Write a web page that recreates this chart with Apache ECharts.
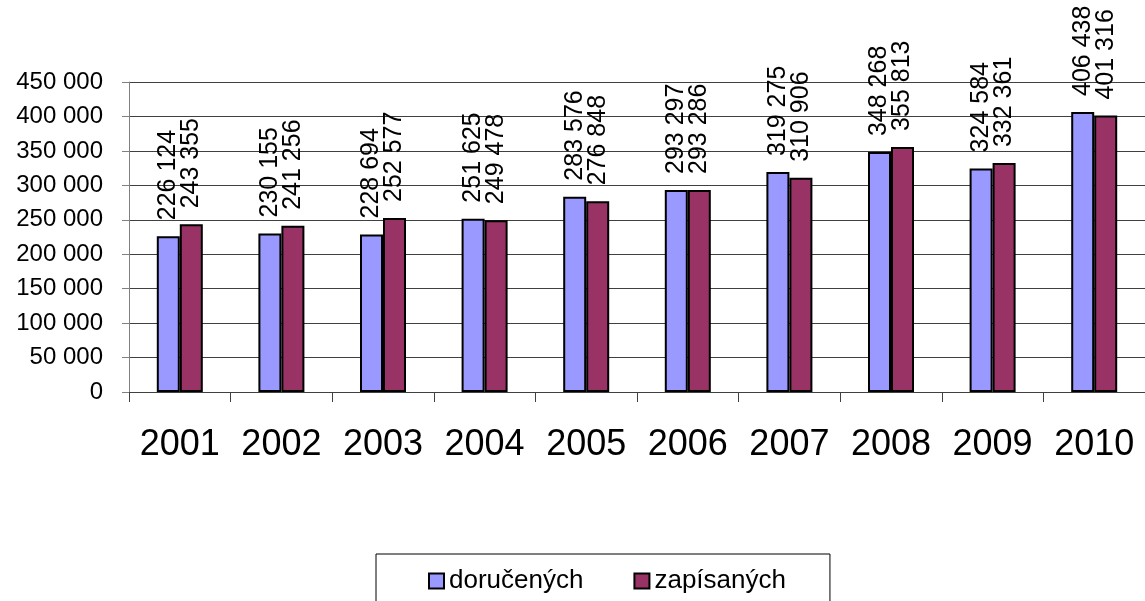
<!DOCTYPE html>
<html>
<head>
<meta charset="utf-8">
<script src="https://cdn.jsdelivr.net/npm/echarts@6/dist/echarts.min.js"></script>
<style>
	html, body { margin: 0; padding: 0; background: #fff; }
	#chart { width: 1145px; height: 601px; }
</style>
</head>
<body>
<div id="chart"></div>
<script>
// 연도별 데이터
const years = ['2001', '2002', '2003', '2004', '2005', '2006', '2007', '2008', '2009', '2010'];
const dorucenych = [226124, 230155, 228694, 251625, 283576, 293297, 319275, 348268, 324584, 406438];
const zapisanych = [243355, 241256, 252577, 249478, 276848, 293286, 310906, 355813, 332361, 401316];

const FONT = '"Liberation Sans", Arial, sans-serif';

// 천 단위 공백 구분
function fmt(v) {
	return String(v).replace(/\B(?=(\d{3})+(?!\d))/g, ' ');
}

const chart = echarts.init(document.getElementById('chart'), null, { renderer: 'canvas' });

const labelStyle = {
	show: true,
	position: 'top',
	distance: 16,
	rotate: 90,
	align: 'left',
	verticalAlign: 'middle',
	fontFamily: FONT,
	fontSize: 25,
	color: '#000',
	formatter: p => fmt(p.value)
};

const option = {
	animation: false,
	textStyle: { fontFamily: FONT },
	grid: {
		left: 129,
		right: -8,
		top: 82,
		bottom: 601 - 392
	},
	legend: {
		left: 376,
		top: 554,
		padding: [14, 44, 14, 52],
		itemGap: 50,
		itemWidth: 15,
		itemHeight: 15,
		borderColor: '#000',
		borderWidth: 1,
		textStyle: { fontFamily: FONT, fontSize: 26, color: '#000' },
		data: [
			{ name: 'doručených', icon: 'rect', itemStyle: { color: '#9999FF', borderColor: '#000', borderWidth: 2 } },
			{ name: 'zapísaných', icon: 'rect', itemStyle: { color: '#993366', borderColor: '#000', borderWidth: 2 } }
		]
	},
	xAxis: {
		type: 'category',
		data: years,
		boundaryGap: true,
		axisLine: { lineStyle: { color: '#404040', width: 1 } },
		axisTick: { show: true, length: 10, lineStyle: { color: '#404040' } },
		axisLabel: {
			fontFamily: FONT,
			fontSize: 36,
			color: '#000',
			margin: 35,
			interval: 0
		},
		splitLine: { show: false }
	},
	yAxis: {
		type: 'value',
		min: 0,
		max: 450000,
		interval: 50000,
		axisLine: { show: true, lineStyle: { color: '#808080', width: 1 } },
		axisTick: { show: true, length: 7, lineStyle: { color: '#808080' } },
		axisLabel: {
			fontFamily: FONT,
			fontSize: 24,
			color: '#000',
			margin: 26,
			formatter: v => fmt(v)
		},
		splitLine: { show: true, lineStyle: { color: '#404040', width: 1 } }
	},
	series: [
		{
			name: 'doručených',
			type: 'bar',
			data: dorucenych,
			barWidth: 23,
			barGap: '0%',
			itemStyle: { color: '#9999FF', borderColor: '#000', borderWidth: 2 },
			label: labelStyle
		},
		{
			name: 'zapísaných',
			type: 'bar',
			data: zapisanych,
			barWidth: 23,
			barGap: '0%',
			itemStyle: { color: '#993366', borderColor: '#000', borderWidth: 2 },
			label: labelStyle
		}
	]
};

chart.setOption(option);
</script>
</body>
</html>
